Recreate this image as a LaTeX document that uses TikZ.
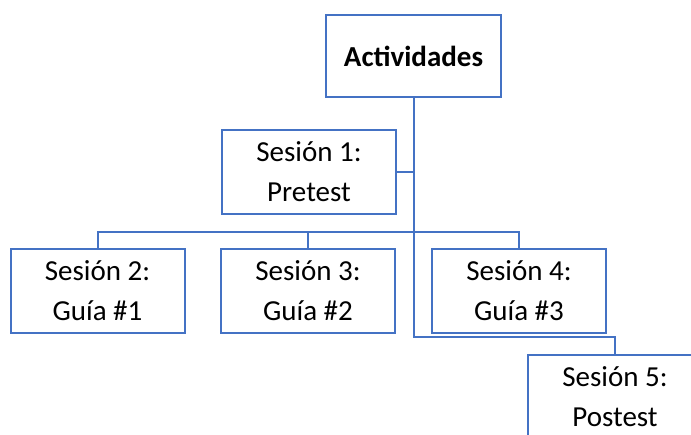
\documentclass[tikz,border=0pt]{standalone}
\usepackage{fontspec}
\setmainfont{Carlito}
\definecolor{boxblue}{RGB}{68,114,196}
\tikzset{
  caja/.style={draw=boxblue,line width=2pt,minimum width=174pt,minimum height=84pt,
    inner sep=0pt,align=center,font=\fontsize{29}{40}\selectfont},
  linea/.style={draw=boxblue,line width=2pt}
}
\begin{document}
\begin{tikzpicture}[x=1pt,y=1pt]
\clip (0,0) rectangle (691,-434);
\node[caja,minimum width=175pt,minimum height=82pt,font=\fontsize{29}{40}\selectfont\bfseries] (act) at (413.5,-56) {Actividades};
\node[caja] (s1) at (309,-172) {Sesión 1:\\Pretest};
\node[caja] (s2) at (97.5,-291) {Sesión 2:\\Guía \#1};
\node[caja] (s3) at (308,-291) {Sesión 3:\\Guía \#2};
\node[caja] (s4) at (519,-291) {Sesión 4:\\Guía \#3};
\node[caja,fill=white] (s5) at (615,-397) {Sesión 5:\\Postest};
\coordinate (bus) at (0,-232);
\coordinate (spine) at (413.5,-337);

\draw[linea] (act.south) -- (spine) -| (s5.north);
\draw[linea] (s1.east) -- (s1.east -| act.south);
\draw[linea] (s2.north) -- (s2.north |- bus) -- (s4.north |- bus) -- (s4.north);
\draw[linea] (s3.north) -- (s3.north |- bus);
\end{tikzpicture}
\end{document}
